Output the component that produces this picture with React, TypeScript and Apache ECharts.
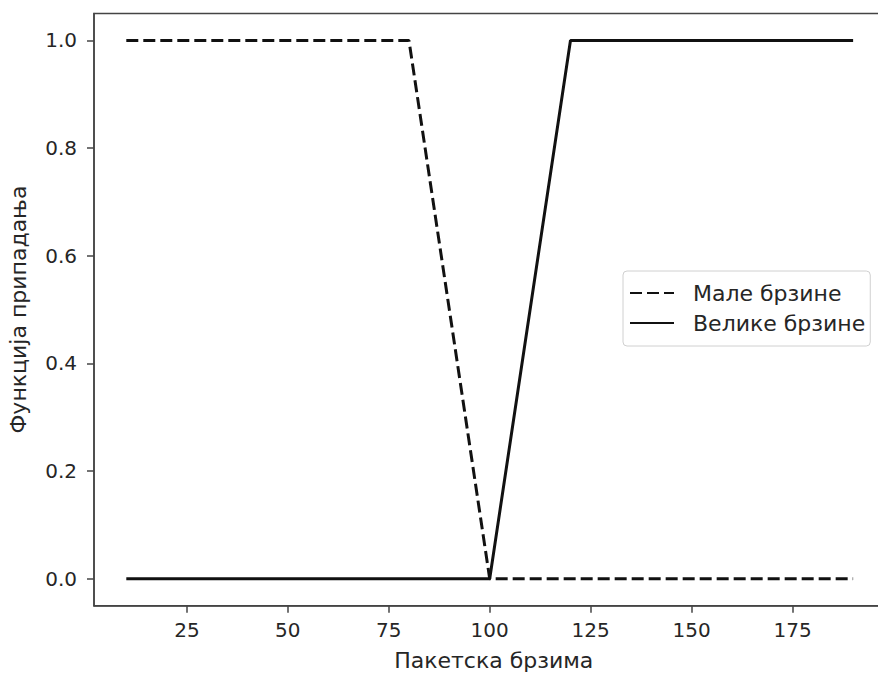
import React, { useEffect, useRef } from "react";
import * as echarts from "echarts";

const smallX = [10, 80, 100, 190];
const smallY = [1, 1, 0, 0];
const largeX = [10, 100, 120, 190];
const largeY = [0, 0, 1, 1];
const xTicks = [25, 50, 75, 100, 125, 150, 175];
const yTicks = [0, 0.2, 0.4, 0.6, 0.8, 1.0];
const seriesNames = ["Мале брзине", "Велике брзине"];
const xTitle = "Пакетска брзима";
const yTitle = "Функција припадања";

export default function App() {
  const ref = useRef<HTMLDivElement>(null);
  useEffect(() => {
    if (!ref.current) return;
    const chart = echarts.init(ref.current, null, { renderer: "svg" });
    const font = "DejaVu Sans";
    const textColor = "#262626";
    chart.setOption({
      animation: false,
      textStyle: { fontFamily: font },
      grid: {
        left: 94,
        right: -15.5,
        top: 13.5,
        bottom: 68.3,
        outerBoundsMode: "none",
        containLabel: false,
        show: true,
        borderColor: "#444",
        borderWidth: 1.5,
        backgroundColor: "transparent",
      },
      legend: {
        orient: "vertical",
        left: 623,
        top: 271,
        data: seriesNames,
        padding: [11, 5, 12, 6],
        itemGap: 8,
        itemWidth: 44,
        itemHeight: 22,
        borderColor: "#d0d0d0",
        borderWidth: 1,
        borderRadius: 4,
        backgroundColor: "rgba(255,255,255,0.8)",
        itemStyle: { opacity: 0 },
        textStyle: { fontSize: 22, color: textColor, fontFamily: font, padding: [0, 0, 0, 14] },
      },
      xAxis: {
        type: "value",
        min: 2,
        max: 200,
        splitLine: { show: false },
        axisLine: { show: true, onZero: false, lineStyle: { color: "#444", width: 1.5 } },
        axisTick: { show: true, customValues: xTicks, length: 7, lineStyle: { color: "#444", width: 1.5 } },
        axisLabel: { customValues: xTicks, fontSize: 20, color: textColor, margin: 14, fontFamily: font },
        name: xTitle,
        nameLocation: "middle",
        nameGap: 44,
        nameTextStyle: { fontSize: 22, color: textColor, fontFamily: font },
      },
      yAxis: {
        type: "value",
        min: -0.05,
        max: 1.05,
        splitLine: { show: false },
        axisLine: { show: true, onZero: false, lineStyle: { color: "#444", width: 1.5 } },
        axisTick: { show: true, customValues: yTicks, length: 7, lineStyle: { color: "#444", width: 1.5 } },
        axisLabel: {
          customValues: yTicks,
          fontSize: 20,
          color: textColor,
          margin: 17,
          fontFamily: font,
          formatter: (v: number) => v.toFixed(1),
        },
        name: yTitle,
        nameLocation: "middle",
        nameGap: 65,
        nameTextStyle: { fontSize: 22, color: textColor, fontFamily: font },
      },
      series: [
        {
          name: seriesNames[0],
          type: "line",
          data: smallX.map((x, i) => [x, smallY[i]]),
          symbol: "none",
          lineStyle: { color: "#111", width: 3, type: [12, 5] },
          itemStyle: { color: "#111" },
          z: 2,
        },
        {
          name: seriesNames[1],
          type: "line",
          data: largeX.map((x, i) => [x, largeY[i]]),
          symbol: "none",
          lineStyle: { color: "#111", width: 3, type: "solid" },
          itemStyle: { color: "#111" },
          z: 3,
        },
      ],
    });
    return () => chart.dispose();
  }, []);
  return (
    <div style={{ position: "absolute", left: 0, top: 0, width: 878, height: 674, overflow: "hidden" }}>
      <div ref={ref} style={{ width: 878, height: 674 }} />
    </div>
  );
}
